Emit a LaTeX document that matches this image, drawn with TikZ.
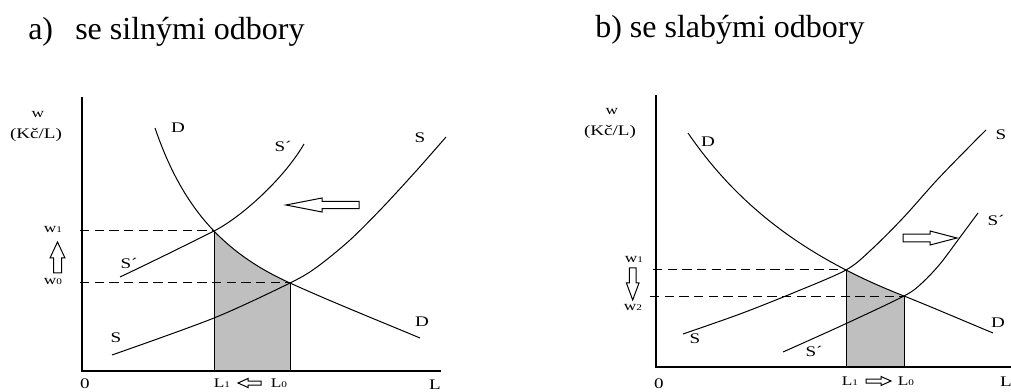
\documentclass[tikz,border=0pt]{standalone}
\usepackage{fontspec}
\setmainfont{Liberation Serif}
\newfontfamily\labfont[FakeStretch=1.3]{Liberation Serif}
\newcommand\sbs[1]{{\fontsize{6.5}{7}\selectfont #1}}
\begin{document}
\begin{tikzpicture}[x=0.75pt,y=-0.75pt,
  axis/.style={line width=1pt},
  curve/.style={line width=0.75pt},
  guide/.style={line width=0.75pt, dash pattern=on 7pt off 4pt},
  lab/.style={font=\labfont\fontsize{11}{13}\selectfont, inner sep=0},
  small/.style={font=\labfont\fontsize{10}{12}\selectfont, inner sep=0},
  hollow/.style={draw, fill=white, line width=0.75pt, line join=miter},
  shade/.style={fill=black!25},
  title/.style={font=\fontsize{24}{28}\selectfont, anchor=base west, inner sep=0},
]
\useasboundingbox (0,0) rectangle (1011,392);

% titles
\node[title] (ta) at (28,40) {a)};
\node[title] (tb) at (75,40) {se silnými odbory};
\node[title] (tc) at (595,38) {b) se slabými odbory};

% ================= chart a =================
\coordinate (A1) at (214,231);
\coordinate (A0) at (290,283);
\coordinate (Dae) at (420,338);
\def\Dapath{plot[domain=155:290, samples=60] (\x, {382.9 - 221.75/(\x-68)*100}) .. controls (333,302.5) and (377,320) .. (Dae)}
\begin{scope}
  \clip (214,0) rectangle (290,371);
  \fill[shade] \Dapath -- (420,371) -- (155,371) -- cycle;
\end{scope}
\draw[curve] (214,371) -- (A1);
\draw[curve] (290,371) -- (A0);
\draw[guide] (80,231) -- (A1);
\draw[guide] (80,283) -- (A0);
\draw[axis] (82,97) -- (82,371) -- (441,371);
\draw[curve] \Dapath;
\draw[curve] (120,277) .. controls (160,258) and (190,243) .. (A1) .. controls (240,218) and (283,180) .. (304,144);
\draw[curve] plot[smooth] coordinates {(112,355) (214,318) (A0) (317,267) (350,240) (383,207) (417,170) (446,137)};

\node[small] (wa) at (38,115) {w};
\node[lab] (ka) at (36,135) {(Kč/L)};
\node[small] (w1a) at (53,230) {w\sbs{1}};
\node[small] (w0a) at (53,282) {w\sbs{0}};
\node[lab] (da1) at (178,128) {D};
\node[lab] (da2) at (422,322) {D};
\node[lab] (spa1) at (283,146) {S´};
\node[lab] (spa2) at (129,263) {S´};
\node[lab] (sa1) at (420,138) {S};
\node[lab] (sa2) at (116,338) {S};
\node[lab] (za) at (85,384) {0};
\node[small] (l1a) at (222,383) {L\sbs{1}};
\node[small] (l0a) at (279,383) {L\sbs{0}};
\node[lab] (la) at (435,385) {L};

% hollow arrows a
\draw[hollow] (286,205) -- (322,198) -- (322,201.3) -- (359,201.3) -- (359,208.7) -- (322,208.7) -- (322,212) -- cycle;
\draw[hollow] (57.5,242) -- (65,258) -- (61.5,258) -- (61.5,273) -- (53.5,273) -- (53.5,258) -- (50,258) -- cycle;
\draw[hollow] (238,383) -- (248,378.5) -- (248,381) -- (261,381) -- (261,385) -- (248,385) -- (248,387.5) -- cycle;

% ================= chart b =================
\coordinate (B1) at (846,270);
\coordinate (B0) at (904,296);
\coordinate (Dbe) at (993,333);
\def\Dbpath{plot[domain=688:904, samples=60] (\x, {470.3 - 779.17/(\x-457)*100}) .. controls (934,308) and (963,320.5) .. (Dbe)}
\begin{scope}
  \clip (846,0) rectangle (904,367);
  \fill[shade] \Dbpath -- (993,367) -- (688,367) -- cycle;
\end{scope}
\draw[curve] (846,367) -- (B1);
\draw[curve] (904,367) -- (B0);
\draw[guide] (653,270) -- (B1);
\draw[guide] (650,296) -- (B0);
\draw[axis] (656,95) -- (656,367) -- (1011,367);
\draw[curve] \Dbpath;
\draw[curve] plot[smooth] coordinates {(683,334) (740,314) (793,293) (B1) (872,249) (903,218) (937,180) (970,146) (986,130)};
\draw[curve] plot[smooth] coordinates {(783,352) (843,325) (B0) (922,283) (940,264) (958,240) (978,213)};

\node[small] (wb) at (612,112) {w};
\node[lab] (kb) at (610,132) {(Kč/L)};
\node[small] (w1b) at (634,260) {w\sbs{1}};
\node[small] (w2b) at (633,308) {w\sbs{2}};
\node[lab] (db1) at (708,142) {D};
\node[lab] (db2) at (998,323) {D};
\node[lab] (sb1) at (1001,135) {S};
\node[lab] (sb2) at (695,339) {S};
\node[lab] (spb1) at (996,220) {S´};
\node[lab] (spb2) at (814,351) {S´};
\node[lab] (zb) at (659,384) {0};
\node[small] (l1b) at (850,381) {L\sbs{1}};
\node[small] (l0b) at (906,381) {L\sbs{0}};
\node[lab] (lb) at (1006,382) {L};

% hollow arrows b
\draw[hollow] (957,238) -- (930,231) -- (930,234.2) -- (903,234.2) -- (903,241.8) -- (930,241.8) -- (930,245) -- cycle;
\draw[hollow] (632.7,300) -- (639,283) -- (636,283) -- (636,268) -- (629.4,268) -- (629.4,283) -- (626.4,283) -- cycle;
\draw[hollow] (891,381) -- (881,376.5) -- (881,379) -- (866,379) -- (866,383) -- (881,383) -- (881,385.5) -- cycle;
\end{tikzpicture}
\end{document}
